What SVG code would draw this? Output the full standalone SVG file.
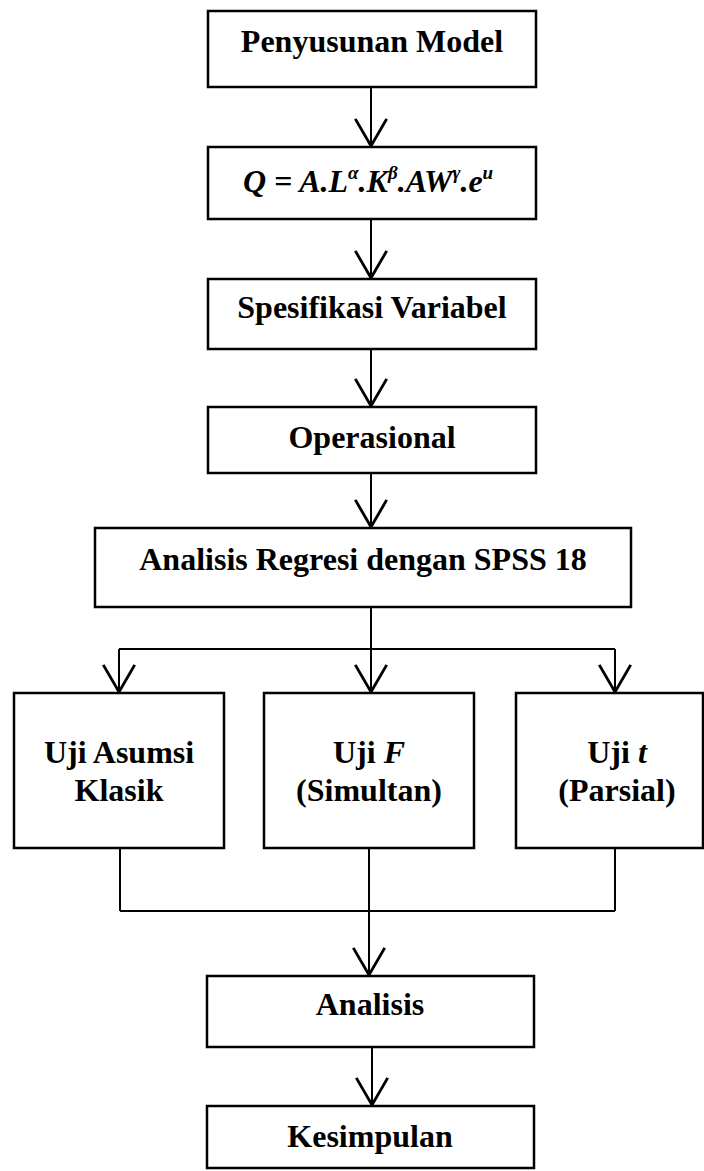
<svg xmlns="http://www.w3.org/2000/svg" width="704" height="1171" viewBox="0 0 704 1171">
<style>
.box{fill:#fff;stroke:#000;stroke-width:2.5}
.t{font-family:"Liberation Serif","Times New Roman",serif;font-weight:bold;font-size:32px;fill:#000;text-anchor:middle}
.f{font-family:"Liberation Serif","Times New Roman",serif;font-weight:bold;font-style:italic;font-size:32px;fill:#000}
.sup{font-size:19px}
.c{fill:none;stroke:#000;stroke-width:2}
</style>
<defs>
<marker id="arr" markerUnits="userSpaceOnUse" markerWidth="40" markerHeight="40" refX="0" refY="0" orient="auto" viewBox="-22 -14 24 28" overflow="visible">
<path d="M-19,-11 L0,0 L-19,11" fill="none" stroke="#000" stroke-width="2"/>
</marker>
</defs>
<rect width="704" height="1171" fill="#fff"/>
<g id="connectors">
<line class="c" x1="371" y1="87" x2="371" y2="146" marker-end="url(#arr)"/>
<line class="c" x1="371" y1="219" x2="371" y2="278" marker-end="url(#arr)"/>
<line class="c" x1="371" y1="349" x2="371" y2="406" marker-end="url(#arr)"/>
<line class="c" x1="371" y1="473" x2="371" y2="527" marker-end="url(#arr)"/>
<line class="c" x1="371" y1="607" x2="371" y2="649"/>
<line class="c" x1="119" y1="649" x2="615" y2="649"/>
<line class="c" x1="119" y1="649" x2="119" y2="692" marker-end="url(#arr)"/>
<line class="c" x1="371" y1="649" x2="371" y2="692" marker-end="url(#arr)"/>
<line class="c" x1="615" y1="649" x2="615" y2="692" marker-end="url(#arr)"/>
<line class="c" x1="120" y1="848" x2="120" y2="911"/>
<line class="c" x1="369" y1="848" x2="369" y2="911"/>
<line class="c" x1="615" y1="848" x2="615" y2="911"/>
<line class="c" x1="120" y1="911" x2="615" y2="911"/>
<line class="c" x1="369" y1="911" x2="369" y2="975" marker-end="url(#arr)"/>
<line class="c" x1="372" y1="1047" x2="372" y2="1105" marker-end="url(#arr)"/>
</g>
<g id="n1"><rect class="box" x="208" y="11" width="328" height="76"/><text class="t" x="372" y="52">Penyusunan Model</text></g>
<g id="n2"><rect class="box" x="208" y="147" width="328" height="72"/><text class="f" x="243" y="192">Q = A.L<tspan class="sup" dy="-13">α</tspan><tspan dy="13">.K</tspan><tspan class="sup" dy="-13">β</tspan><tspan dy="13">.AW</tspan><tspan class="sup" dy="-13">γ</tspan><tspan dy="13">.e</tspan><tspan class="sup" dy="-13">u</tspan></text></g>
<g id="n3"><rect class="box" x="208" y="279" width="328" height="70"/><text class="t" x="372" y="318">Spesifikasi Variabel</text></g>
<g id="n4"><rect class="box" x="208" y="407" width="328" height="66"/><text class="t" x="372" y="448">Operasional</text></g>
<g id="n5"><rect class="box" x="95" y="528" width="536" height="79"/><text class="t" x="363" y="570">Analisis Regresi dengan SPSS 18</text></g>
<g id="n6"><rect class="box" x="14" y="693" width="210" height="155"/><text class="t" x="119" y="763">Uji Asumsi</text><text class="t" x="119" y="801">Klasik</text></g>
<g id="n7"><rect class="box" x="264" y="693" width="210" height="155"/><text class="t" x="369" y="763">Uji <tspan font-style="italic">F</tspan></text><text class="t" x="369" y="801">(Simultan)</text></g>
<g id="n8"><rect class="box" x="516" y="693" width="187" height="155"/><text class="t" x="617" y="763">Uji <tspan font-style="italic">t</tspan></text><text class="t" x="617" y="801">(Parsial)</text></g>
<g id="n9"><rect class="box" x="207" y="976" width="327" height="71"/><text class="t" x="370" y="1015">Analisis</text></g>
<g id="n10"><rect class="box" x="207" y="1106" width="327" height="62"/><text class="t" x="370" y="1147">Kesimpulan</text></g>
</svg>
